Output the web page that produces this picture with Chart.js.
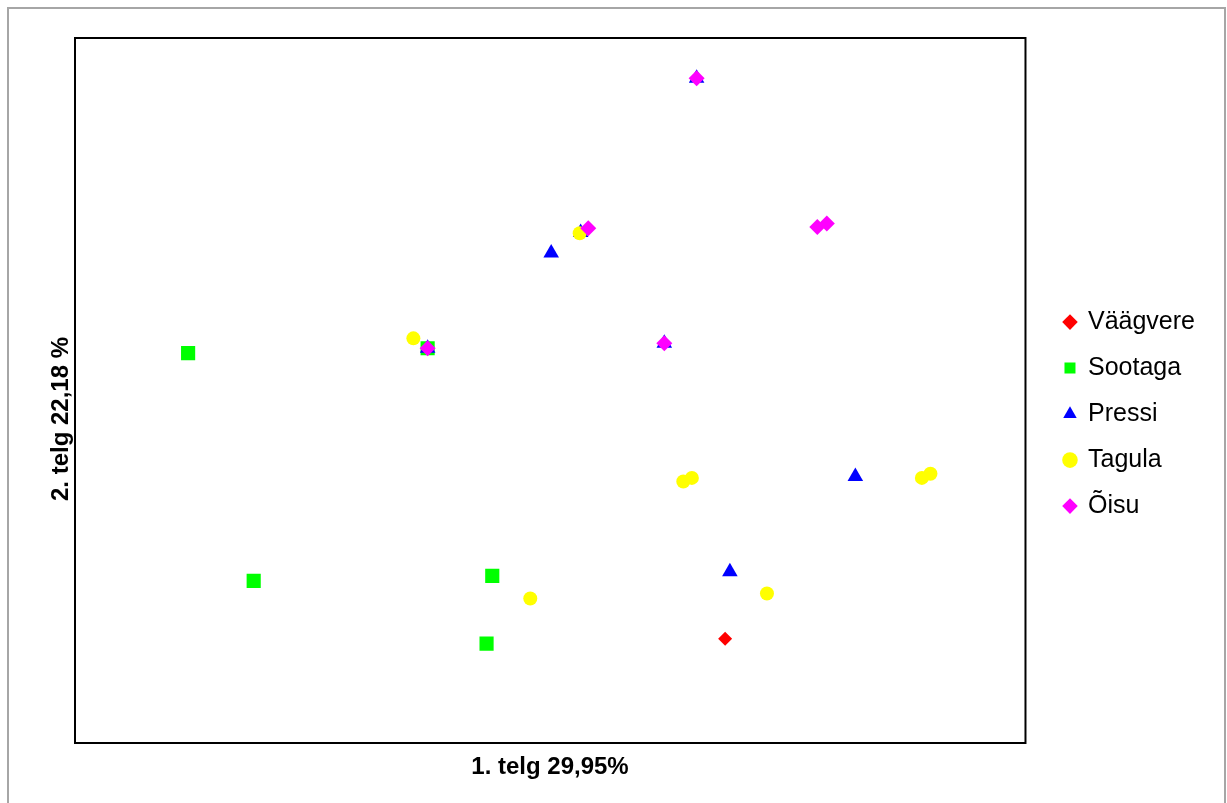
<!DOCTYPE html>
<html>
<head>
<meta charset="utf-8">
<script src="https://cdn.jsdelivr.net/npm/chart.js@4/dist/chart.umd.min.js"></script>
<style>
  body { margin: 0; background: #fff; }
  #wrap { position: relative; width: 1227px; height: 803px; }
</style>
</head>
<body>
<div id="wrap"><canvas id="ordChart" width="1227" height="803"></canvas></div>
<script>
// Ordination scores (axis 1 / axis 2)
const seriesNames = ["Väägvere", "Sootaga", "Pressi", "Tagula", "Õisu"];
const seriesColors = ["#ff0000", "#00ff00", "#0000ff", "#ffff00", "#ff00ff"];

const vaagvereX = [6.84];
const vaagvereY = [1.48];

const sootagaX = [1.19, 1.88, 4.39, 4.33, 3.71];
const sootagaY = [5.53, 2.30, 2.37, 1.41, 5.60];

const pressiX = [6.54, 5.01, 5.32, 3.71, 6.20, 8.21, 6.89];
const pressiY = [9.43, 6.95, 7.24, 5.60, 5.67, 3.78, 2.43];

const tagulaX = [3.56, 5.31, 6.40, 6.49, 4.79, 7.28, 8.91, 9.00];
const tagulaY = [5.74, 7.23, 3.71, 3.76, 2.05, 2.12, 3.76, 3.82];

const oisuX = [6.54, 5.40, 3.71, 6.20, 7.81, 7.91];
const oisuY = [9.43, 7.30, 5.60, 5.67, 7.32, 7.37];

const axisXTitle = "1. telg 29,95%";
const axisYTitle = "2. telg 22,18 %";

function toPoints(xs, ys) {
    return xs.map((x, i) => ({ x: x, y: ys[i] }));
}

// Frame plugin: outer border, plot box and axis titles
const framePlugin = {
    id: 'frame',
    afterDraw(chart) {
        const ctx = chart.ctx;
        const a = chart.chartArea;
        ctx.save();
        ctx.strokeStyle = '#a6a6a6';
        ctx.lineWidth = 2;
        ctx.strokeRect(8, 8, 1217, 800);

        ctx.strokeStyle = '#000';
        ctx.lineWidth = 2;
        ctx.strokeRect(a.left, a.top, a.right - a.left, a.bottom - a.top);

        ctx.fillStyle = '#000';
        ctx.font = 'bold 24px "Liberation Sans", Arial, sans-serif';
        ctx.textAlign = 'center';
        ctx.textBaseline = 'alphabetic';
        ctx.fillText(axisXTitle, 550, 774);

        ctx.translate(68, 419);
        ctx.rotate(-Math.PI / 2);
        ctx.fillText(axisYTitle, 0, 0);
        ctx.restore();
    }
};

function initializeChart() {
    const ctx = document.getElementById('ordChart').getContext('2d');
    const styles = ['rectRot', 'rect', 'triangle', 'circle', 'rectRot'];
    const radii = [7, 10, 9, 7, 8];
    const data = [
        toPoints(vaagvereX, vaagvereY),
        toPoints(sootagaX, sootagaY),
        toPoints(pressiX, pressiY),
        toPoints(tagulaX, tagulaY),
        toPoints(oisuX, oisuY)
    ];

    const datasets = seriesNames.map((name, i) => ({
        label: name,
        data: data[i],
        pointStyle: styles[i],
        pointRadius: radii[i],
        pointHoverRadius: radii[i],
        backgroundColor: seriesColors[i],
        borderColor: seriesColors[i],
        borderWidth: 0,
        order: seriesNames.length - i
    }));

    new Chart(ctx, {
        type: 'scatter',
        data: { datasets: datasets },
        options: {
            responsive: false,
            animation: false,
            layout: { padding: { left: 67, top: 38, right: 22, bottom: 52 } },
            scales: {
                x: {
                    min: 0, max: 10,
                    ticks: { display: false },
                    grid: { display: false },
                    border: { display: false }
                },
                y: {
                    min: 0, max: 10,
                    ticks: { display: false },
                    grid: { display: false },
                    border: { display: false }
                },
                // empty right axis, only keeps a gap between plot and legend
                gap: {
                    type: 'linear',
                    position: 'right',
                    min: 0, max: 1,
                    ticks: { display: false },
                    grid: { display: false },
                    border: { display: false },
                    afterFit: (scale) => { scale.width = 18; }
                }
            },
            plugins: {
                tooltip: { enabled: false },
                legend: {
                    position: 'right',
                    title: {
                        display: true,
                        text: ' ',
                        font: { size: 16 },
                        padding: 10
                    },
                    labels: {
                        usePointStyle: true,
                        boxWidth: 11,
                        boxHeight: 11,
                        padding: 21,
                        color: '#000',
                        font: { family: '"Liberation Sans", Arial, sans-serif', size: 25 },
                        sort: (a, b) => a.datasetIndex - b.datasetIndex
                    }
                }
            }
        },
        plugins: [framePlugin]
    });
}

window.onload = function() {
    initializeChart();
};
</script>
</body>
</html>
